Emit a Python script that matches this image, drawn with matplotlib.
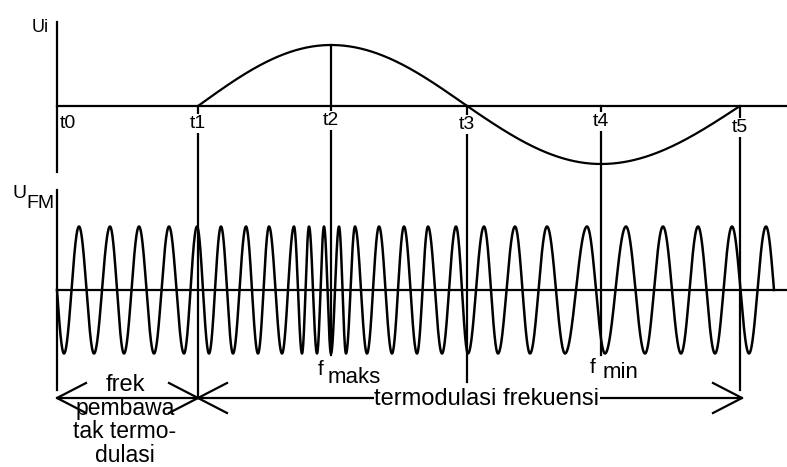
import numpy as np
import matplotlib
matplotlib.use("Agg")
import matplotlib.pyplot as plt

plt.rcParams['font.family'] = ['Liberation Sans', 'DejaVu Sans']

# ---- data (diagram units: horizontal time units, vertical signal units) ----
t_labels = ["t0", "t1", "t2", "t3", "t4", "t5"]
t_pos = [57, 198, 331, 467, 601, 740]          # time marks
ui_amp_up = 61                                   # modulating signal amplitude (positive half)
ui_amp_down = 58                                 # modulating signal amplitude (negative half)

# FM carrier: start (zero), alternating extrema (first is a trough), end (zero)
fm_start = 57
fm_end = 774
fm_extrema = [64, 79, 94, 110, 124, 139, 154, 169, 184, 197, 209, 221, 233, 246,
              258, 269, 282, 294, 302, 309, 317, 324, 331, 339, 346, 355, 367, 379,
              392, 404, 417, 428, 442, 456, 468, 484, 498, 515, 530, 547, 565, 587,
              605, 626, 645, 663, 681, 698, 715, 732, 749, 766]
fm_amp = 63.5

# ---- layout (pixel-like coordinates) ----
W, H = 787, 467
fig = plt.figure(figsize=(W / 100, H / 100), dpi=100)
ax = fig.add_axes([0, 0, 1, 1])
ax.set_xlim(0, W)
ax.set_ylim(H, 0)
ax.axis('off')

LW = 1.6
K = 'black'
y_ui = 106      # zero line of Ui
y_fm = 290      # zero line of U_FM
ax0 = 57

# axes
ax.plot([ax0, ax0], [22, 172], color=K, lw=LW)
ax.plot([ax0, W], [y_ui, y_ui], color=K, lw=LW)
ax.plot([ax0, ax0], [190, 390], color=K, lw=LW)
ax.plot([ax0, W], [y_fm, y_fm], color=K, lw=LW)

# modulating sine from t1 to t5 (piecewise quarter waves between marks)
xs = np.linspace(t_pos[1], t_pos[5], 800)
phase = np.interp(xs, t_pos[1:], np.arange(5) * np.pi / 2)
s = np.sin(phase)
amp = np.where(s >= 0, ui_amp_up, ui_amp_down)
ax.plot(xs, y_ui - amp * s, color=K, lw=LW, solid_capstyle='round')

# FM carrier
knots = [fm_start] + fm_extrema + [fm_end]
ph_knots = [0.0] + [np.pi / 2 + np.pi * i for i in range(len(fm_extrema))]
ph_knots.append(ph_knots[-1] + np.pi / 2)
xf = np.linspace(fm_start, fm_end, 6000)
pf = np.interp(xf, knots, ph_knots)
ax.plot(xf, y_fm + fm_amp * np.sin(pf), color=K, lw=1.8)

# vertical time lines
v_top = {1: y_ui, 2: y_ui - ui_amp_up, 3: y_ui, 4: y_ui, 5: y_ui}
v_bot = {1: 398, 2: 355, 3: 382, 4: 355, 5: 390}
for i in range(1, 6):
    ax.plot([t_pos[i], t_pos[i]], [v_top[i], v_bot[i]], color=K, lw=LW)

# time labels (white box breaks the lines)
t_base = [128, 128, 125, 129, 126, 132]
for i, lab in enumerate(t_labels):
    xx = t_pos[i] + (11 if i == 0 else 0)
    ax.text(xx, t_base[i], lab, fontsize=14, ha='center', va='baseline',
            bbox=dict(facecolor='white', edgecolor='none', pad=1.0), zorder=5)

ax.text(40.5, 32, "Ui", fontsize=13, ha='center', va='baseline')
ax.text(19, 198, "U", fontsize=14, ha='center', va='baseline')
ax.text(40, 208, "FM", fontsize=14, ha='center', va='baseline')

ax.text(321, 375, "f", fontsize=15, ha='center', va='baseline')
ax.text(354, 383, "maks", fontsize=16, ha='center', va='baseline')
ax.text(593, 373, "f", fontsize=15, ha='center', va='baseline')
ax.text(620, 378, "min", fontsize=16, ha='center', va='baseline')

# arrows
ya = 398
ah_l, ah_w = 29, 15
ax.plot([ax0, t_pos[1]], [ya, ya], color=K, lw=LW)
ax.plot([ax0 + ah_l, ax0, ax0 + ah_l], [ya - ah_w, ya, ya + ah_w], color=K, lw=LW)
ax.plot([t_pos[1] - ah_l, t_pos[1], t_pos[1] - ah_l], [ya - ah_w, ya, ya + ah_w], color=K, lw=LW)
x_end = 742
ax.plot([t_pos[1], x_end], [ya, ya], color=K, lw=LW)
ax.plot([t_pos[1] + ah_l, t_pos[1], t_pos[1] + ah_l], [ya - ah_w, ya, ya + ah_w], color=K, lw=LW)
ax.plot([x_end - ah_l, x_end, x_end - ah_l], [ya - ah_w, ya, ya + ah_w], color=K, lw=LW)

ax.text(125, 391, "frek", fontsize=17, ha='center', va='baseline')
ax.text(487, 405, "termodulasi frekuensi", fontsize=17, ha='center', va='baseline',
        bbox=dict(facecolor='white', edgecolor='none', pad=0.3), zorder=5)
ax.text(125, 466.5, "pembawa\ntak termo-\ndulasi", fontsize=16.5, ha='center',
        va='bottom', multialignment='center', linespacing=1.0)

fig.savefig("out.png", dpi=100, facecolor='white')
